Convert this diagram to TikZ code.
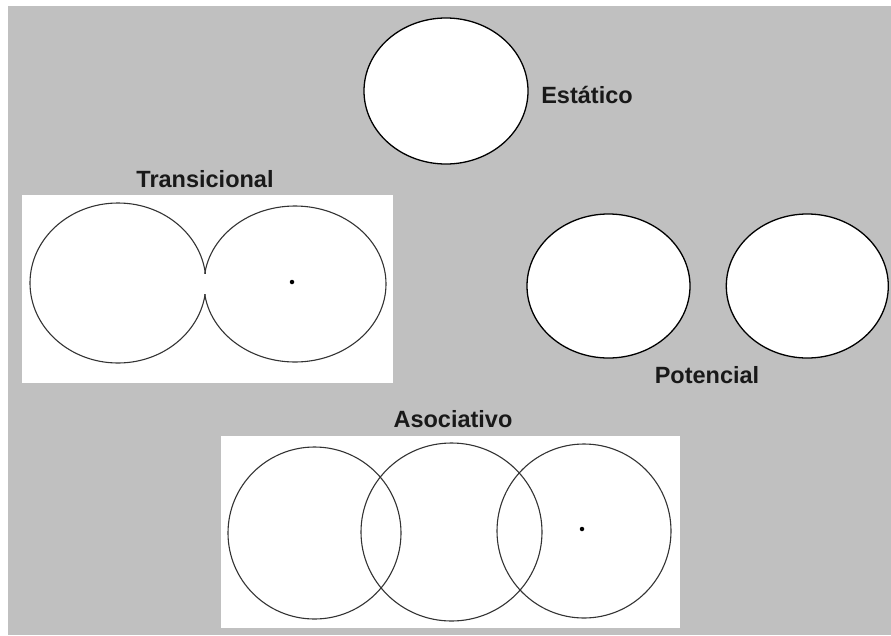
\documentclass[tikz,border=0pt]{standalone}
\usepackage{fontspec}
\setmainfont{Liberation Sans}
\usetikzlibrary{shapes.geometric}
\usetikzlibrary{positioning}

\definecolor{bg}{RGB}{192,192,192}

\begin{document}
\begin{tikzpicture}[x=1pt,y=-1pt,
	bold blob/.style={ellipse,draw=black,line width=1.3pt,fill=white,inner sep=0pt},
	thin blob/.style={ellipse,draw=black!80,line width=1.1pt,inner sep=0pt},
	dot/.style={circle,fill=black,inner sep=0pt,minimum size=4.5pt},
	tag/.style={font=\fontsize{23.5}{27}\selectfont\bfseries,text=black!90,inner sep=0pt,anchor=base}]
	
	\useasboundingbox (0,0) rectangle (891,635);
	\fill[bg] (8,6) rectangle (891,635);
	\fill[white] (22,195) rectangle (393,383);
	\fill[white] (221,436) rectangle (680,628);
	
	% estatico
	\node[bold blob,minimum width=164pt,minimum height=146pt] (est) at (446,91) {};
	\node[tag] (est label) at (587,103) {Estático};
	
	% transicional
	\node[thin blob,minimum width=176pt,minimum height=160pt] (tl) at (118,283) {};
	\node[thin blob,minimum width=182pt,minimum height=156pt] (tr) at (295,284) {};
	\fill[white] (202,273.5) rectangle (209,293.5); % neck between the two lobes
	\node[dot] (tr dot) at (292,282) {};
	\node[tag] (tr label) at (205,187) {Transicional};
	
	% potencial
	\node[bold blob,minimum width=163pt,minimum height=144pt] (pl) at (608.5,286) {};
	\node[bold blob,minimum width=162pt,minimum height=144pt] (pr) [right=35pt of pl] {};
	\node[tag] (pot label) at (707,383) {Potencial};
	
	% asociativo
	\node[thin blob,minimum width=173pt,minimum height=172pt] (al) at (314.5,533) {};
	\node[thin blob,minimum width=181pt,minimum height=178pt] (am) at (451.5,532) {};
	\node[thin blob,minimum width=174pt,minimum height=174pt] (ar) at (584,531) {};
	\node[dot] (ar dot) at (582,529) {};
	\node[tag] (as label) at (453,427) {Asociativo};
\end{tikzpicture}
\end{document}
